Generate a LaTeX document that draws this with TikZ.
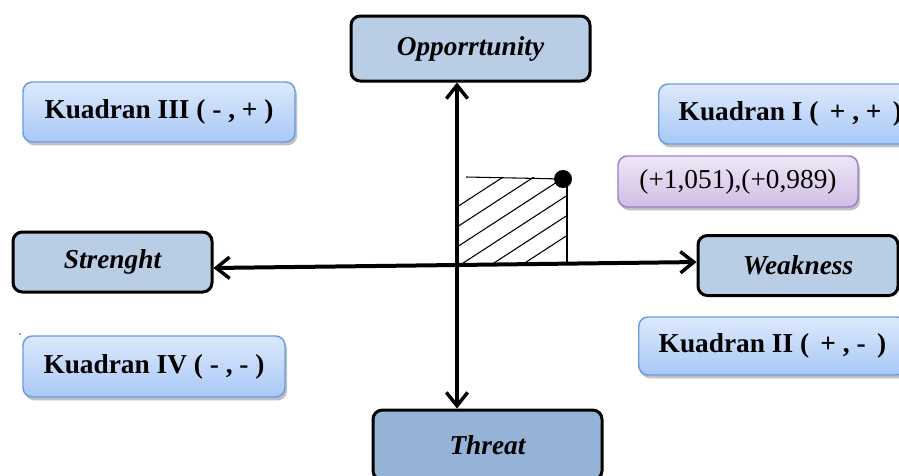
\documentclass[tikz,border=0pt]{standalone}
\usepackage{fontspec}
\setmainfont{Liberation Serif}
\usetikzlibrary{arrows.meta,shadows}
\definecolor{axisbox}{HTML}{B9CDE5}
\definecolor{threatbox}{HTML}{95B3D7}
\definecolor{kqtop}{HTML}{DDE9FC}
\definecolor{kqbot}{HTML}{A8C8F7}
\definecolor{kqline}{HTML}{6A9BDD}
\definecolor{putop}{HTML}{EEE7F6}
\definecolor{pubot}{HTML}{D0BEE4}
\definecolor{puline}{HTML}{9F7EC6}
\tikzset{
  axbox/.style={draw=black, line width=2.25pt, rounded corners=7pt, fill=axisbox,
    font=\fontsize{20.5}{24}\selectfont\bfseries\itshape, inner sep=0pt},
  kqbox/.style={draw=kqline, line width=1.1pt, rounded corners=7pt, top color=kqtop, bottom color=kqbot,
    drop shadow={shadow xshift=1.5pt, shadow yshift=-2.5pt, opacity=0.35, fill=black!70},
    font=\fontsize{20.5}{24}\selectfont\bfseries, inner sep=0pt, minimum height={60*0.75pt}},
  pubox/.style={draw=puline, line width=1.1pt, rounded corners=7pt, top color=putop, bottom color=pubot,
    drop shadow={shadow xshift=1.5pt, shadow yshift=-2.5pt, opacity=0.35, fill=black!70},
    font=\fontsize{20.5}{24}\selectfont, inner sep=0pt},
  axisline/.style={line width=3pt, {Straight Barb[length=10pt,width=16pt,line width=2.6pt]}-{Straight Barb[length=10pt,width=16pt,line width=2.6pt]}},
  hatch/.style={line width=0.8pt, black}
}
\begin{document}
\begin{tikzpicture}[x=0.75pt,y=-0.75pt]
\useasboundingbox (0,0) rectangle (899,475);
\clip (0,0) rectangle (899,475);
% axis boxes
\node[axbox, minimum width={239*0.75pt}, minimum height={65*0.75pt}] (opp) at (470.5,48.5) {Opporrtunity};
\node[axbox, minimum width={199*0.75pt}, minimum height={60*0.75pt}] (str) at (112.5,262) {Strenght};
\node[axbox, minimum width={200*0.75pt}, minimum height={60*0.75pt}] (weak) at (798,265.5) {Weakness};
\node[axbox, fill=threatbox, minimum width={229*0.75pt}, minimum height={70*0.75pt}] (threat) at (487.5,445) {Threat};
% quadrant boxes
\node[kqbox, minimum width={272*0.75pt}] (k3) at (159,112) {Kuadran III ( - , + )};
\node[kqbox, anchor=west, inner xsep=15pt] (k1) at (658,114) {Kuadran I ( \,+ , + \,)};
\node[kqbox, anchor=west, inner xsep=15pt, minimum height={58*0.75pt}] (k2) at (638,346) {Kuadran II ( \,+ , - \,)};
\node[kqbox, minimum width={262*0.75pt}, minimum height={61*0.75pt}] (k4) at (154,366.5) {Kuadran IV ( - , - )};
\node[pubox, minimum width={240*0.75pt}, minimum height={51*0.75pt}] (val) at (738,181.5) {(+1,051),(+0,989)};
% stray speck
\fill[black!70] (20,334) circle (0.9);
% hatched area
\coordinate (vx) at (457,0);
\coordinate (hl) at (466,177);
\coordinate (br) at (567,262);
\begin{scope}
\clip (457,177) rectangle (567,262);
\foreach \y in {207,227,247,267,287,307}
  \draw[hatch] (457,\y) -- ++(160,-104);
\end{scope}
\node[circle, fill=black, inner sep=0pt, minimum size={18*0.75pt}] (pt) at (563,179) {};
\draw[hatch] (hl) -- (pt.center);
\draw[hatch] (br |- pt) -- (br);
% axes
\draw[axisline] (opp.south -| vx) -- (threat.north -| vx);
\draw[axisline] ([yshift=-4.5pt]str.east) -- ([yshift=2.6pt]weak.west);
\end{tikzpicture}
\end{document}
